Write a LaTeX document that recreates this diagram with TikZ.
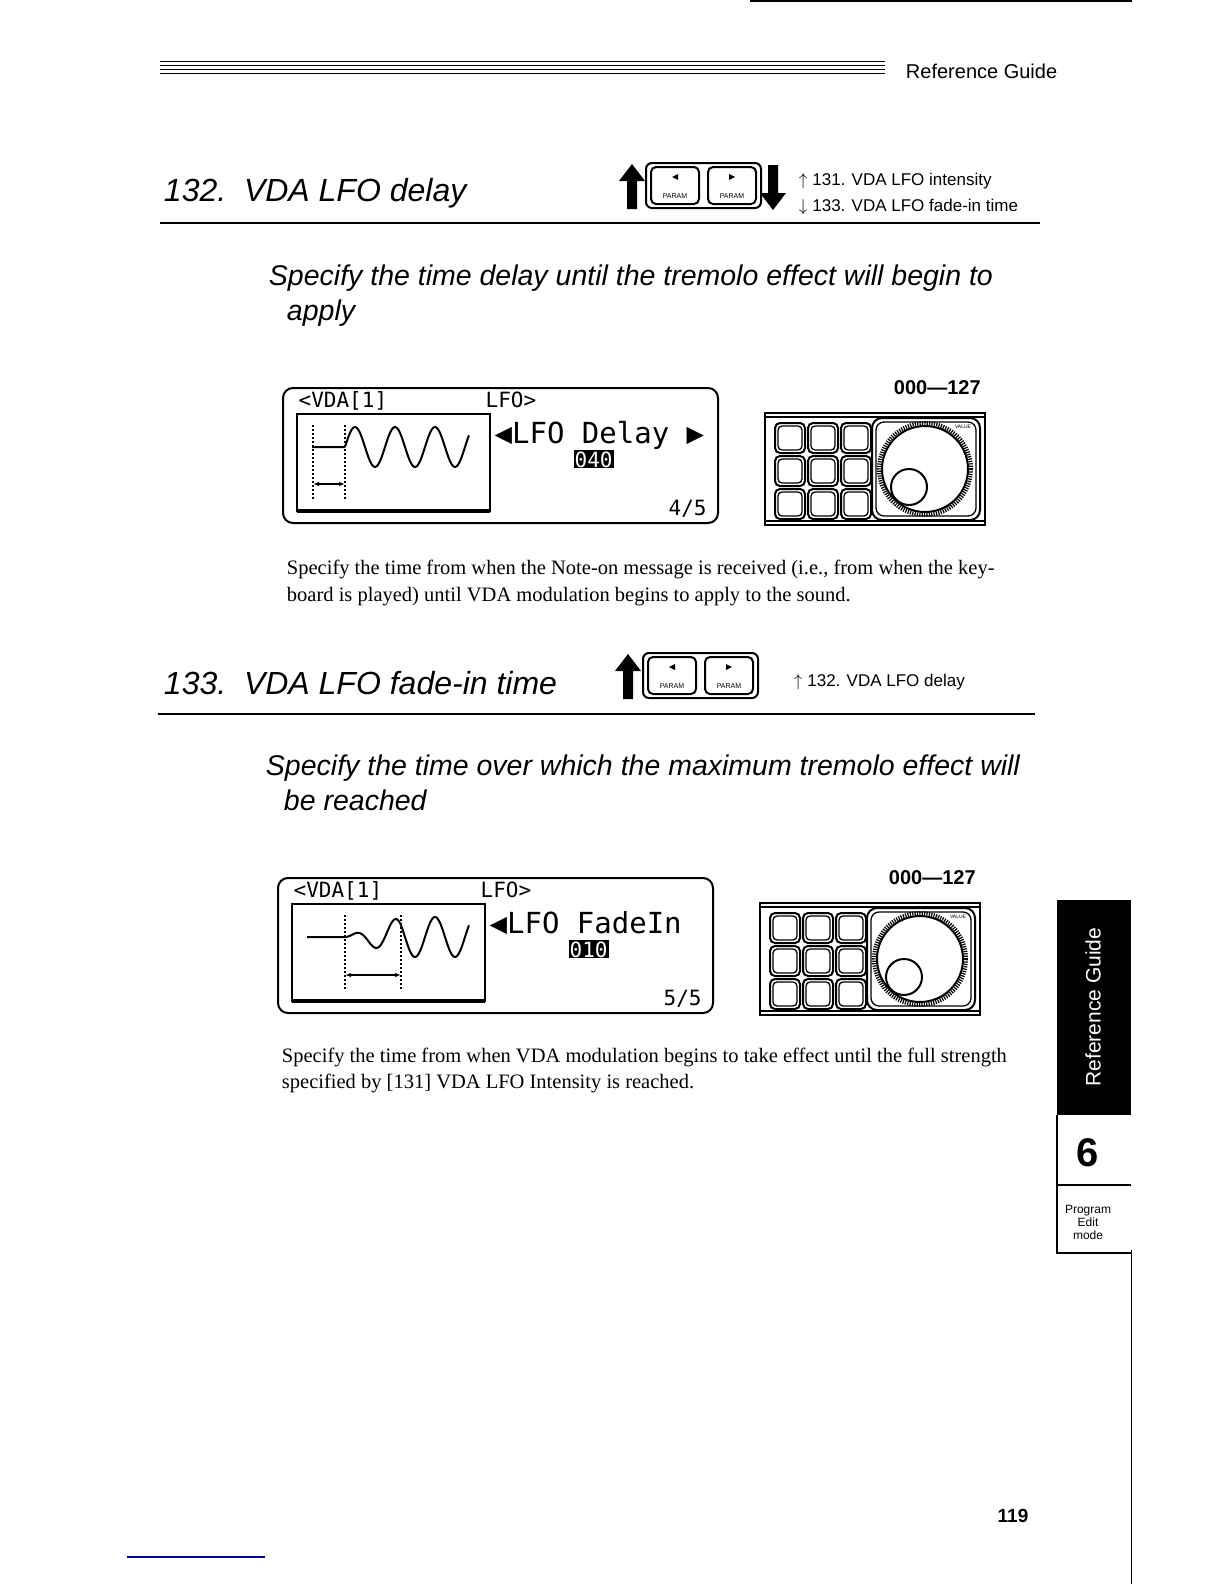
\documentclass[tikz,border=0pt]{standalone}
\usepackage{fontspec}
\setmainfont{Liberation Serif}
\setsansfont{Liberation Sans}
\newfontfamily\lcdfont{DejaVu Sans Mono}
\usetikzlibrary{arrows.meta}

% small pieces of the panel used twice
\newcommand{\parampair}{%
  \draw[rounded corners=6pt, thick] (0,0) rectangle (115,45);
  \foreach \kx in {5,62}{
    \draw[rounded corners=5pt, thick] (\kx,4) rectangle ++(48,37);
    \node[font=\sffamily\fontsize{7}{7}\selectfont] at (\kx+24,33) {PARAM};
  }
  \fill (24+5-3,14) -- (24+5+3,11) -- (24+5+3,17) -- cycle;
  \fill (62+24+3,14) -- (62+24-3,11) -- (62+24-3,17) -- cycle;
}
\newcommand{\bigup}{\fill (0,0) -- (-13,17) -- (-5,17) -- (-5,45) -- (5,45) -- (5,17) -- (13,17) -- cycle;}
\newcommand{\bigdown}{\fill (0,45) -- (-13,28) -- (-5,28) -- (-5,0) -- (5,0) -- (5,28) -- (13,28) -- cycle;}
\newcommand{\valuepanel}{%
  \draw[thick] (0,0) rectangle (220,112);
  \draw (0,4) -- (220,4) (0,108) -- (220,108);
  \foreach \row in {0,1,2}{
    \foreach \col in {0,1,2}{
      \draw[rounded corners=5pt, thick] (10+\col*33,10+\row*33) rectangle ++(30,30);
      \draw[rounded corners=4pt] (13+\col*33,13+\row*33) rectangle ++(24,24);
    }
  }
  \draw[rounded corners=10pt, thick] (107,5) rectangle (215,107);
  \draw[rounded corners=8pt] (111,9) rectangle (211,103);
  \draw[line width=4pt, dash pattern=on 1.2pt off 1.2pt] (160,56) circle (46);
  \draw[thick] (160,56) circle (43);
  \draw[thick] (144,74) circle (18);
  \node[font=\sffamily\fontsize{5}{5}\selectfont] at (198,14) {VALUE};
}

\begin{document}
\begin{tikzpicture}[x=1pt, y=-1pt, line width=1.3pt,
    thick/.style = {line width=2pt},
    title/.style = {font=\sffamily\itshape\fontsize{32}{36}\selectfont, anchor=base west},
    subtitle/.style = {font=\sffamily\itshape\fontsize{28.5}{30}\selectfont, anchor=base west},
    body/.style = {font=\fontsize{20.5}{25}\selectfont, anchor=base west},
    xref/.style = {font=\sffamily\fontsize{17}{18}\selectfont, anchor=base west},
    lcd/.style = {font=\lcdfont\fontsize{21}{21}\selectfont, anchor=base west, inner sep=0pt},
    lcdbig/.style = {font=\lcdfont\fontsize{29}{29}\selectfont, anchor=base west, inner sep=0pt},
    rangelabel/.style = {font=\sffamily\bfseries\fontsize{20}{20}\selectfont, anchor=base west}
  ]
  \useasboundingbox (0,0) rectangle (1224,1584);
  \fill[white] (0,0) rectangle (1224,1584);

  % header
  \draw[thick] (750,1) -- (1132,1);
  \foreach \hy in {62,66,70,74}
    \draw[line width=1pt] (160,\hy) -- (885,\hy);
  \node[font=\sffamily\fontsize{20}{20}\selectfont, anchor=base west] (guide) at (902,79) {Reference Guide};

  % ---- 132 ----
  \node[title] (t132) at (160,201) {132.\ \ VDA LFO delay};
  \draw[thick] (160,223) -- (1040,223);
  \begin{scope}[shift={(632,164)}] \bigup \end{scope}
  \begin{scope}[shift={(646,163)}] \parampair \end{scope}
  \begin{scope}[shift={(773,165)}] \bigdown \end{scope}
  \node[xref] (up131) at (795,185) {$\uparrow$ 131. VDA LFO intensity};
  \node[xref] (dn133) at (795,211) {$\downarrow$ 133. VDA LFO fade-in time};
  \node[subtitle] (s132a) at (265,285) {Specify the time delay until the tremolo effect will begin to};
  \node[subtitle] (s132b) at (283,320) {apply};

  \node[rangelabel] (r132) at (890,394) {000---127};
  \draw[rounded corners=10pt, thick] (283,388) rectangle (718,523);
  \draw[thick] (297,414) rectangle (490,511);
  \draw[line width=4pt] (297,511) -- (490,511);
  \draw[thick] (312,447) -- (345,447)
     plot[domain=0:3.1, samples=80] ({345+\x*40}, {447-20*sin(\x*360)});
  \draw[dotted, thick] (313,425) -- (313,500) (345,425) -- (345,500);
  \draw[{Latex[length=6pt]}-{Latex[length=6pt]}, thick] (313,484) -- (345,484);
  \node[lcd] (hd132) at (298,407) {<VDA[1]};
  \node[lcd] (lf132) at (485,407) {LFO>};
  \node[lcdbig] (par132) at (494,443) {◀LFO Delay ▶};
  \node[lcd, fill=black, text=white, inner sep=1pt] (val132) at (573,467) {040};
  \node[lcd] (pg132) at (668,515) {4/5};
  \begin{scope}[shift={(765,413)}] \valuepanel \end{scope}

  \node[body] (p132a) at (283,574) {Specify the time from when the Note-on message is received (i.e., from when the key-};
  \node[body] (p132b) at (283,601) {board is played) until VDA modulation begins to apply to the sound.};

  % ---- 133 ----
  \node[title] (t133) at (160,694) {133.\ \ VDA LFO fade-in time};
  \draw[thick] (158,714) -- (1035,714);
  \begin{scope}[shift={(628,654)}] \bigup \end{scope}
  \begin{scope}[shift={(643,653)}] \parampair \end{scope}
  \node[xref] (up132) at (790,686) {$\uparrow$ 132. VDA LFO delay};
  \node[subtitle] (s133a) at (262,775) {Specify the time over which the maximum tremolo effect will};
  \node[subtitle] (s133b) at (280,810) {be reached};

  \node[rangelabel] (r133) at (885,884) {000---127};
  \draw[rounded corners=10pt, thick] (278,878) rectangle (713,1013);
  \draw[thick] (292,904) rectangle (485,1001);
  \draw[line width=4pt] (292,1001) -- (485,1001);
  \draw[thick] (307,937) -- (345,937)
     plot[domain=0:1.4, samples=60] ({345+\x*40}, {937-20*(\x/1.4)*sin(\x*360)})
     plot[domain=1.4:3.1, samples=60] ({345+\x*40}, {937-20*sin(\x*360)});
  \draw[dotted, thick] (345,915) -- (345,990) (401,915) -- (401,990);
  \draw[{Latex[length=6pt]}-{Latex[length=6pt]}, thick] (345,975) -- (401,975);
  \node[lcd] (hd133) at (293,897) {<VDA[1]};
  \node[lcd] (lf133) at (480,897) {LFO>};
  \node[lcdbig] (par133) at (489,933) {◀LFO FadeIn};
  \node[lcd, fill=black, text=white, inner sep=1pt] (val133) at (568,957) {010};
  \node[lcd] (pg133) at (663,1005) {5/5};
  \begin{scope}[shift={(760,903)}] \valuepanel \end{scope}

  \node[body] (p133a) at (278,1062) {Specify the time from when VDA modulation begins to take effect until the full strength};
  \node[body] (p133b) at (278,1088) {specified by [131] VDA LFO Intensity is reached.};

  % side tab
  \fill[black] (1057,900) rectangle (1131,1115);
  \node[rotate=90, text=white, font=\sffamily\fontsize{21}{21}\selectfont] (tab) at (1093,1007) {Reference Guide};
  \draw (1057,1115) -- (1057,1253) -- (1131,1253);
  \draw (1057,1185) -- (1131,1185);
  \node[font=\sffamily\bfseries\fontsize{40}{40}\selectfont] (chap) at (1088,1153) {6};
  \node[font=\sffamily\fontsize{12}{13}\selectfont, align=center] (mode) at (1088,1222) {Program\\Edit\\mode};
  \draw[line width=0.8pt] (1131,1250) -- (1131,1584);

  % footer
  \node[font=\sffamily\bfseries\fontsize{19}{19}\selectfont] (pgnum) at (1013,1516) {119};
  \draw[blue!60!black] (127,1557) -- (265,1557);
\end{tikzpicture}
\end{document}
